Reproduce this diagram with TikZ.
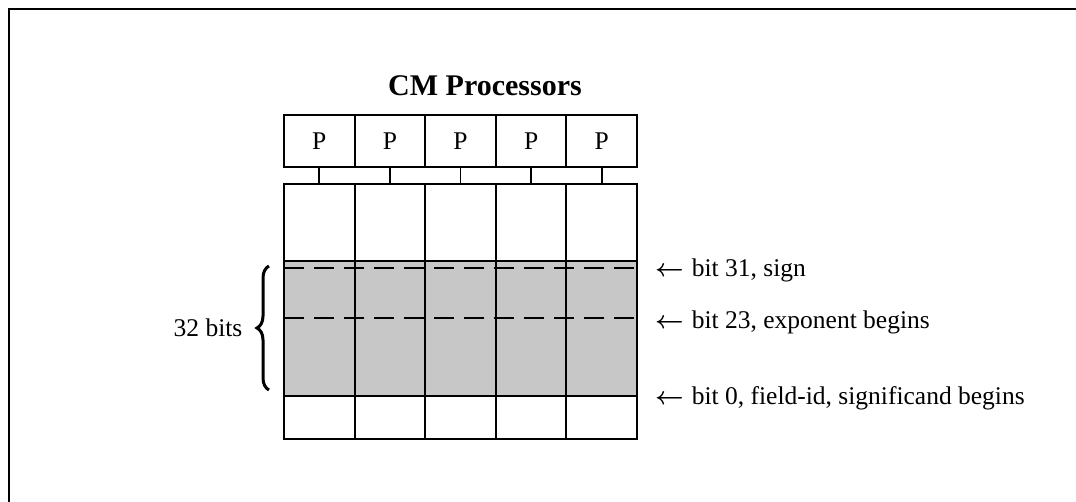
\documentclass[tikz,border=0pt]{standalone}
\usepackage{fontspec}
\setmainfont{Liberation Serif}
\usetikzlibrary{decorations.pathreplacing}
\newcommand{\larr}{\mbox{\boldmath$\leftarrow$}}
\begin{document}
\begin{tikzpicture}[x=1pt,y=-1pt,
  font=\fontsize{25.5}{30}\selectfont,
  pbox/.style={draw, line width=2.1pt, minimum width=70.6pt, minimum height=52pt, inner sep=0pt},
  mcol/.style={draw, line width=2.1pt, minimum width=70.6pt, minimum height=255pt, inner sep=0pt},
  conn/.style={line width=1.9pt},
  rowline/.style={line width=2.1pt},
  dashline/.style={line width=2.8pt, dash pattern=on 20pt off 10pt},
  shadefill/.style={fill=black!22},
  label/.style={anchor=west, inner sep=0pt},
  frame/.style={line width=2.8pt}]
\useasboundingbox (0,0) rectangle (1076,502);
\draw[frame] (1080,9) -- (9,9) -- (9,506);
\node[font=\fontsize{30}{36}\selectfont\bfseries] (title) at (485,86) {CM Processors};
\fill[shadefill] (284,261) rectangle (637,396);
\foreach \i in {1,...,5} {
  \pgfmathsetmacro\cx{284+70.6*(\i-0.5)}
  \node[pbox] (p\i) at (\cx,141) {P};
  \node[mcol] (m\i) at (\cx,311.5) {};
  \draw[conn] (p\i.south) -- (m\i.north);
}
\coordinate (s1) at (284,261);
\coordinate (s2) at (637,261);
\coordinate (b1) at (284,396);
\coordinate (b2) at (637,396);
\coordinate (d1) at (284,268);
\coordinate (d2) at (637,268);
\coordinate (e1) at (284,318);
\coordinate (e2) at (637,318);
\draw[rowline] (s1) -- (s2);
\draw[rowline] (b1) -- (b2);
\draw[dashline] (d1) -- (d2);
\draw[dashline] (e1) -- (e2);
\coordinate (bt) at (269,266);
\coordinate (bb) at (269,390);
\draw[line width=3pt, decorate, decoration={brace, amplitude=12pt}] (bb) -- (bt);
\node (bits) at (208,328) {32 bits};
\node[label] (l31) at (655,270) {\larr\hspace{8pt}bit 31, sign};
\node[label] (l23) at (655,322) {\larr\hspace{8pt}bit 23, exponent begins};
\node[label] (l0) at (655,398) {\larr\hspace{8pt}bit 0, field-id, significand begins};
\end{tikzpicture}
\end{document}
